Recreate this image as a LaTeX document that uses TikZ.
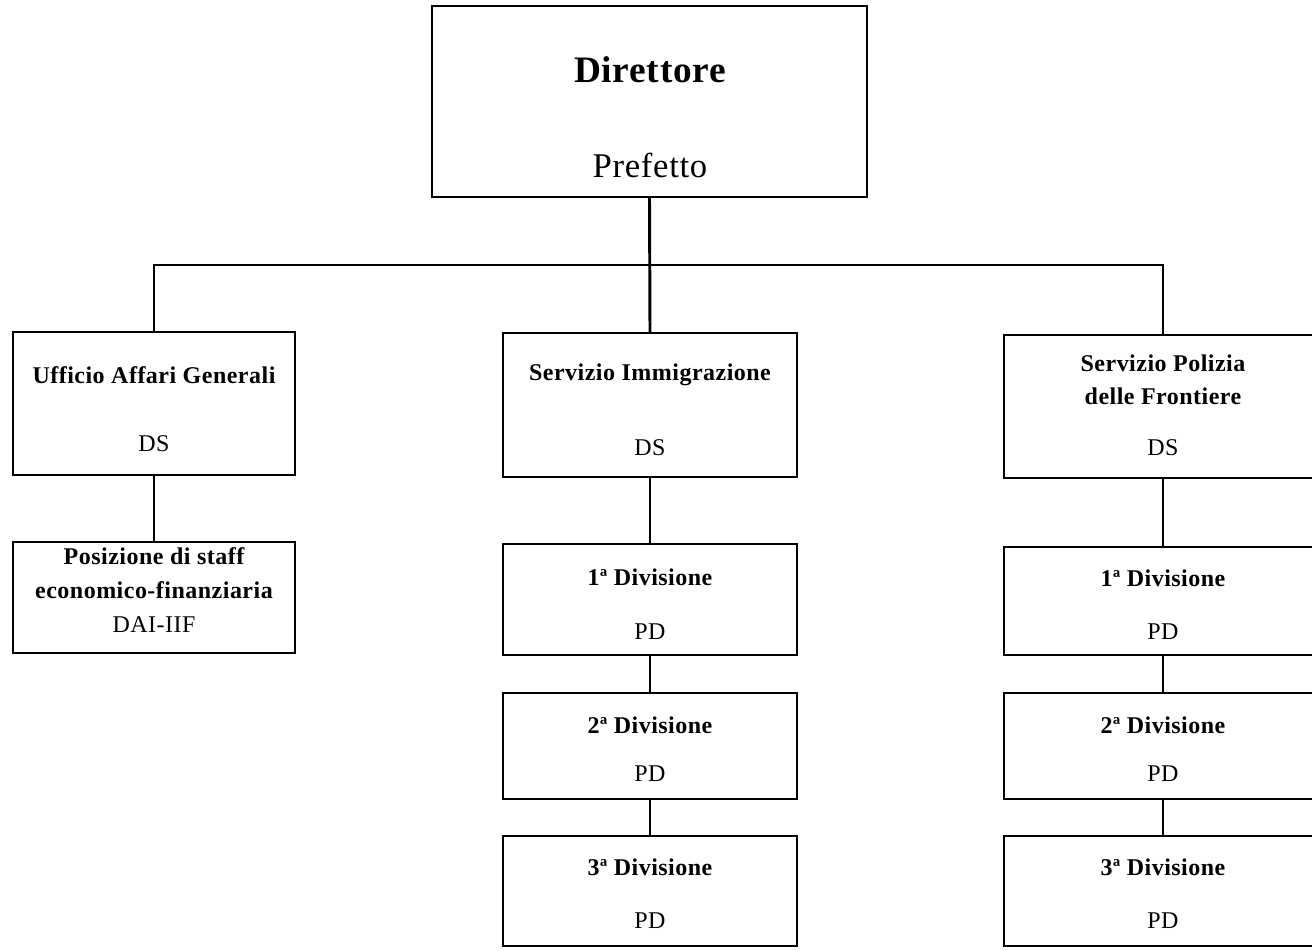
\documentclass[tikz,border=0pt]{standalone}
\usepackage{fontspec}
\setmainfont{Liberation Serif}[LetterSpace=2]
\usepackage{tikz}

\tikzset{
  ubox/.style={draw, line width=2.2pt, rectangle, inner sep=0pt, outer sep=0pt, minimum width=220.5pt},
  conn/.style={line width=2.2pt},
  titolo/.style={font=\fontsize{18}{25}\selectfont\bfseries, align=center, inner sep=0pt},
  grado/.style={font=\fontsize{18}{22}\selectfont, align=center, inner sep=0pt}
}

\begin{document}
\begin{tikzpicture}[x=0.75pt,y=0.75pt,yscale=-1,xscale=1]
\useasboundingbox (0,0) rectangle (1312,950);

%Boxes
\node [ubox, minimum width=326.25pt, minimum height=143.25pt] (dir) at (649.5,101.5) {};
\node [ubox, minimum width=211.5pt, minimum height=107.25pt] (uag) at (154,403.5) {};
\node [ubox, minimum width=211.5pt, minimum height=83.25pt] (stf) at (154,597.5) {};
\node [ubox, minimum height=108pt] (sim) at (650,405) {};
\node [ubox, minimum height=83.25pt] (imA) at (650,599.5) {};
\node [ubox, minimum height=79.5pt] (imB) at (650,746) {};
\node [ubox, minimum height=82.5pt] (imC) at (650,891) {};
\node [ubox, minimum width=238.5pt, minimum height=107.25pt] (spf) at (1163,406.5) {};
\node [ubox, minimum width=238.5pt, minimum height=81pt] (frA) at (1163,601) {};
\node [ubox, minimum width=238.5pt, minimum height=79.5pt] (frB) at (1163,746) {};
\node [ubox, minimum width=238.5pt, minimum height=82.5pt] (frC) at (1163,891) {};

\coordinate (bus) at (650,265);

%Straight Lines
\draw [conn] (dir.south) -- (sim.north);
\draw [conn] (uag.north) -- (uag.north |- bus) -- (spf.north |- bus) -- (spf.north);
\draw [conn] (uag.south) -- (stf.north);
\draw [conn] (sim.south) -- (imA.north);
\draw [conn] (imA.south) -- (imB.north);
\draw [conn] (imB.south) -- (imC.north);
\draw [conn] (spf.south) -- (frA.north);
\draw [conn] (frA.south) -- (frB.north);
\draw [conn] (frB.south) -- (frC.north);

% Text Node
\node [font=\fontsize{28}{32}\selectfont\bfseries, inner sep=0pt] (dirT) at (650,70) {Direttore};
\node [font=\fontsize{26}{30}\selectfont, inner sep=0pt] (dirG) at (650,165) {Prefetto};
% Text Node
\node [titolo] (uagT) at (154,375) {Ufficio Affari Generali};
\node [grado] (uagG) at (154,444) {DS};
\node [titolo] (stfT) at (154,573) {Posizione di staff\\economico-finanziaria};
\node [grado] (stfG) at (154,625) {DAI-IIF};
% Text Node
\node [titolo] (simT) at (650,375) {Servizio Immigrazione};
\node [grado] (simG) at (650,448) {DS};
\node [titolo] (imAT) at (650,577) {1ª Divisione};
\node [grado] (imAG) at (650,632) {PD};
\node [titolo] (imBT) at (650,725) {2ª Divisione};
\node [grado] (imBG) at (650,774) {PD};
\node [titolo] (imCT) at (650,867) {3ª Divisione};
\node [grado] (imCG) at (650,921) {PD};
% Text Node
\node [titolo] (spfT) at (1163,380) {Servizio Polizia\\delle Frontiere};
\node [grado] (spfG) at (1163,448) {DS};
\node [titolo] (frAT) at (1163,578) {1ª Divisione};
\node [grado] (frAG) at (1163,632) {PD};
\node [titolo] (frBT) at (1163,725) {2ª Divisione};
\node [grado] (frBG) at (1163,774) {PD};
\node [titolo] (frCT) at (1163,867) {3ª Divisione};
\node [grado] (frCG) at (1163,921) {PD};

\end{tikzpicture}
\end{document}
